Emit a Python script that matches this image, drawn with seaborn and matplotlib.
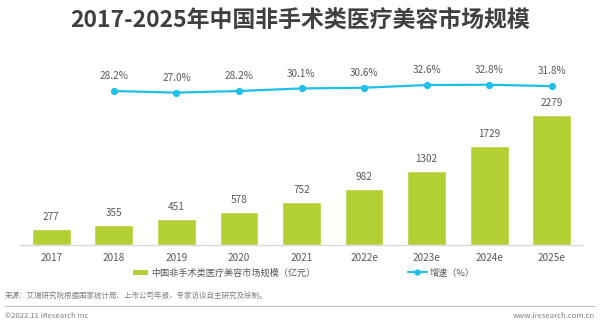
import matplotlib
matplotlib.use("Agg")
import matplotlib.pyplot as plt
import seaborn as sns
import pandas as pd
from matplotlib.lines import Line2D
from matplotlib.patches import Patch

years = ["2017", "2018", "2019", "2020", "2021", "2022e", "2023e", "2024e", "2025e"]
market_size = [277, 355, 451, 578, 752, 982, 1302, 1729, 2279]
growth = [28.2, 27.0, 28.2, 30.1, 30.6, 32.6, 32.8, 31.8]
growth_years = years[1:]
growth_labels = ["28.2%", "27.0%", "28.2%", "30.1%", "30.6%", "32.6%", "32.8%", "31.8%"]

title = "2017-2025年中国非手术类医疗美容市场规模"
bar_legend = "中国非手术类医疗美容市场规模（亿元）"
line_legend = "增速（%）"
source = "来源：艾瑞研究院根据国家统计局、上市公司年报，专家访谈自主研究及绘制。"
copyright_txt = "©2022.11 iResearch Inc"
website = "www.iresearch.com.cn"

sns.set_style("white")
plt.rcParams['font.family'] = ['Noto Sans CJK SC', 'DejaVu Sans']

GREEN = "#B2CF33"
CYAN = "#1EC0E9"
TXT = "#595959"

fig = plt.figure(figsize=(6.0, 3.26), dpi=100)
ax = fig.add_axes([20/600, 1 - 245/326, 563/600, 185/326])

df = pd.DataFrame({"year": years, "size": market_size})
sns.barplot(data=df, x="year", y="size", color=GREEN, width=0.62, ax=ax,
            saturation=1, order=years)
ax.set_ylim(0, 3243)
ax.set_xlim(-0.5, 8.5)
ax.bar_label(ax.containers[0], labels=[str(v) for v in market_size],
             padding=5, fontsize=7.2, color=TXT)
ax.set_xlabel("")
ax.set_ylabel("")
ax.set_yticks([])
ax.tick_params(axis="x", length=0, labelsize=7.2, labelcolor=TXT, pad=6)
for s in ["top", "right", "left"]:
    ax.spines[s].set_visible(False)
ax.spines["bottom"].set_color("#D9D9D9")
ax.spines["bottom"].set_linewidth(1)

ax2 = ax.twinx()
gdf = pd.DataFrame({"year": growth_years, "growth": growth})
sns.pointplot(data=gdf, x="year", y="growth", order=years, color=CYAN,
              markers="o", markersize=4, linewidth=1.6, ax=ax2)
ax2.set_ylim(-85, 51)
ax2.set_xlim(-0.5, 8.5)
ax2.set_yticks([])
ax2.set_ylabel("")
ax2.set_xlabel("")
for s in ax2.spines.values():
    s.set_visible(False)
for yr, v, lab in zip(growth_years, growth, growth_labels):
    ax2.annotate(lab, (years.index(yr), v), xytext=(0, 7), textcoords="offset points",
                 ha="center", va="bottom", fontsize=7.2, color=TXT)

fig.text(0.5, 1 - 20/326, title, ha="center", va="center", fontsize=16.5,
         fontweight="bold", color="#404040")

handles = [Patch(facecolor=GREEN, edgecolor="none"),
           Line2D([0], [0], color=CYAN, marker="o", markersize=3.5, linewidth=1.6)]
fig.legend([handles[0]], [bar_legend], loc="center left",
           bbox_to_anchor=(125/600, 1 - 273/326), frameon=False, fontsize=6.6,
           handlelength=1.6, handleheight=0.5, handletextpad=0.3, labelcolor=TXT)
fig.legend([handles[1]], [line_legend], loc="center left",
           bbox_to_anchor=(400/600, 1 - 273/326), frameon=False, fontsize=6.6,
           handlelength=2.0, handletextpad=0.3, labelcolor=TXT)

fig.text(5/600, 1 - 296/326, source, ha="left", va="center", fontsize=5.4, color="#7F7F7F")
fig.add_artist(Line2D([5/600, 595/600], [1 - 306/326, 1 - 306/326], color="#BFBFBF",
                      linewidth=0.8, transform=fig.transFigure))
fig.text(5/600, 1 - 316/326, copyright_txt, ha="left", va="center", fontsize=5.5, color="#7F7F7F")
fig.text(595/600, 1 - 316/326, website, ha="right", va="center", fontsize=5.5, color="#7F7F7F")

fig.savefig("out.png", dpi=100)
